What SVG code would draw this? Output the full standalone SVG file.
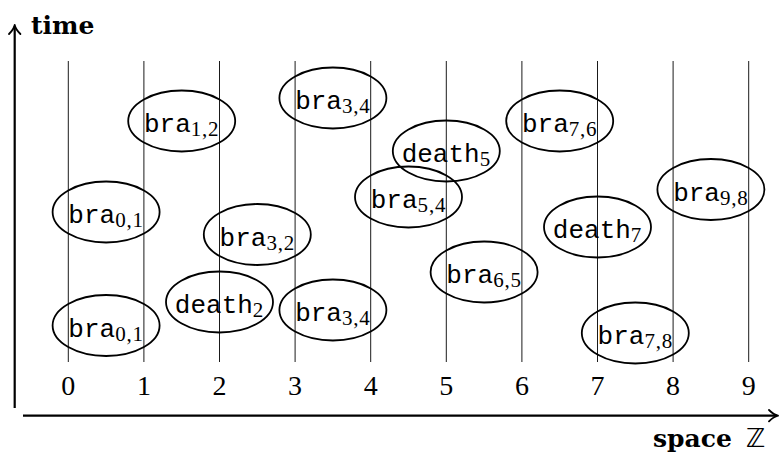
<svg xmlns="http://www.w3.org/2000/svg" width="779" height="455" viewBox="0 0 779 455">
<style>
.grid{stroke:#000;stroke-width:0.9;fill:none}
.axis{stroke:#000;stroke-width:2.2;fill:none}
.head{stroke:#000;stroke-width:1.8;fill:none;stroke-linecap:round;stroke-linejoin:round}
.node ellipse{fill:none;stroke:#000;stroke-width:1.8}
.lbl{font-family:"Liberation Mono","DejaVu Sans Mono",monospace;font-size:26px;text-anchor:middle;fill:#000}
.sub{font-family:"Liberation Serif","DejaVu Serif",serif;font-size:21px;letter-spacing:0.8px}
.num{font-family:"Liberation Serif","DejaVu Serif",serif;font-size:28px;text-anchor:middle;fill:#000}
.ax{font-family:"DejaVu Serif","Liberation Serif",serif;font-weight:bold;font-size:25px;fill:#000}
</style>
<g id="axes">
<line class="axis" x1="14.7" y1="408" x2="14.7" y2="26"/>
<path class="head" d="M9 34 C11.5 31.5 14 28.5 14.7 25 C15.4 28.5 17.9 31.5 20.4 34"/>
<line class="axis" x1="23" y1="415.7" x2="777" y2="415.7"/>
<path class="head" d="M769 410 C771.5 412.5 774.5 415 778 415.7 C774.5 416.4 771.5 418.9 769 421.4"/>
<text class="ax" x="31" y="34">time</text>
<text class="ax" x="653" y="447">space</text>
<text x="746" y="447" style="font-family:'DejaVu Sans',sans-serif;font-size:26px;fill:#000">ℤ</text>
</g>
<g id="grid">
<line class="grid" x1="68.3" y1="61" x2="68.3" y2="362"/>
<line class="grid" x1="143.9" y1="61" x2="143.9" y2="362"/>
<line class="grid" x1="219.5" y1="61" x2="219.5" y2="362"/>
<line class="grid" x1="295.1" y1="61" x2="295.1" y2="362"/>
<line class="grid" x1="370.7" y1="61" x2="370.7" y2="362"/>
<line class="grid" x1="446.3" y1="61" x2="446.3" y2="362"/>
<line class="grid" x1="521.9" y1="61" x2="521.9" y2="362"/>
<line class="grid" x1="597.5" y1="61" x2="597.5" y2="362"/>
<line class="grid" x1="673.1" y1="61" x2="673.1" y2="362"/>
<line class="grid" x1="748.7" y1="61" x2="748.7" y2="362"/>
<text class="num" x="68.3" y="395">0</text>
<text class="num" x="143.9" y="395">1</text>
<text class="num" x="219.5" y="395">2</text>
<text class="num" x="295.1" y="395">3</text>
<text class="num" x="370.7" y="395">4</text>
<text class="num" x="446.3" y="395">5</text>
<text class="num" x="521.9" y="395">6</text>
<text class="num" x="597.5" y="395">7</text>
<text class="num" x="673.1" y="395">8</text>
<text class="num" x="748.7" y="395">9</text>
</g>
<g id="n-bra01a" class="node"><ellipse cx="106.1" cy="212" rx="53.5" ry="30.5"/><text class="lbl" x="106.1" y="223">bra<tspan class="sub" dy="4">0,1</tspan></text></g>
<g id="n-bra01b" class="node"><ellipse cx="106.1" cy="325.5" rx="53.5" ry="30.5"/><text class="lbl" x="106.1" y="336.5">bra<tspan class="sub" dy="4">0,1</tspan></text></g>
<g id="n-bra12" class="node"><ellipse cx="181.7" cy="121" rx="53.5" ry="30.5"/><text class="lbl" x="181.7" y="132">bra<tspan class="sub" dy="4">1,2</tspan></text></g>
<g id="n-death2" class="node"><ellipse cx="219.5" cy="302" rx="53.5" ry="30.5"/><text class="lbl" x="219.5" y="313">death<tspan class="sub" dy="4">2</tspan></text></g>
<g id="n-bra32" class="node"><ellipse cx="257.3" cy="234.5" rx="53.5" ry="30.5"/><text class="lbl" x="257.3" y="245.5">bra<tspan class="sub" dy="4">3,2</tspan></text></g>
<g id="n-bra34a" class="node"><ellipse cx="332.9" cy="98" rx="53.5" ry="30.5"/><text class="lbl" x="332.9" y="109">bra<tspan class="sub" dy="4">3,4</tspan></text></g>
<g id="n-bra34b" class="node"><ellipse cx="332.9" cy="310" rx="53.5" ry="30.5"/><text class="lbl" x="332.9" y="321">bra<tspan class="sub" dy="4">3,4</tspan></text></g>
<g id="n-bra54" class="node"><ellipse cx="408.5" cy="197" rx="53.5" ry="30.5"/><text class="lbl" x="408.5" y="208">bra<tspan class="sub" dy="4">5,4</tspan></text></g>
<g id="n-death5" class="node"><ellipse cx="446.3" cy="151" rx="53.5" ry="30.5"/><text class="lbl" x="446.3" y="162">death<tspan class="sub" dy="4">5</tspan></text></g>
<g id="n-bra65" class="node"><ellipse cx="484.1" cy="272" rx="53.5" ry="30.5"/><text class="lbl" x="484.1" y="283">bra<tspan class="sub" dy="4">6,5</tspan></text></g>
<g id="n-bra76" class="node"><ellipse cx="559.7" cy="121" rx="53.5" ry="30.5"/><text class="lbl" x="559.7" y="132">bra<tspan class="sub" dy="4">7,6</tspan></text></g>
<g id="n-death7" class="node"><ellipse cx="597.5" cy="227" rx="53.5" ry="30.5"/><text class="lbl" x="597.5" y="238">death<tspan class="sub" dy="4">7</tspan></text></g>
<g id="n-bra78" class="node"><ellipse cx="635.3" cy="333" rx="53.5" ry="30.5"/><text class="lbl" x="635.3" y="344">bra<tspan class="sub" dy="4">7,8</tspan></text></g>
<g id="n-bra98" class="node"><ellipse cx="710.9" cy="189.5" rx="53.5" ry="30.5"/><text class="lbl" x="710.9" y="200.5">bra<tspan class="sub" dy="4">9,8</tspan></text></g>
<g id="connectors"></g>
</svg>
